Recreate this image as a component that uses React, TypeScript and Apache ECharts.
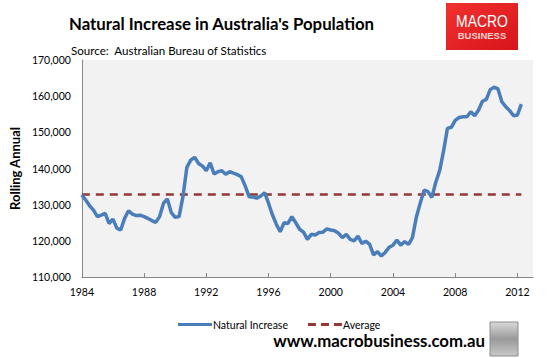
import React, { useEffect, useRef } from "react";
import * as echarts from "echarts";

// Quarterly rolling-annual natural increase, starting 1984 Q1
const startYear = 1984;
const naturalIncrease: number[] = [
  132700, 131300, 129700, 128500, 126700, 127100, 127600, 124800, 126000, 123500,
  123000, 126200, 128300, 127400, 127000, 127100, 126700, 126200, 125600, 125100,
  126700, 130400, 131600, 127800, 126500, 126700, 132200, 140300, 142300, 143100,
  141400, 140700, 139400, 141600, 138500, 139100, 139400, 138400, 139100, 138700,
  138300, 137700, 135200, 132200, 132100, 131800, 132400, 133300, 130400, 127200,
  124600, 122500, 125000, 124800, 126700, 125000, 123200, 122400, 120400, 121800,
  121600, 122300, 122400, 123300, 123000, 122800, 122100, 120900, 121800, 120400,
  120000, 121300, 119300, 119900, 119000, 116100, 117000, 115800, 116800, 118200,
  118800, 120200, 118800, 119800, 119000, 120900, 126500, 130400, 134000, 133600,
  132000, 136200, 139400, 144800, 151100, 151400, 153300, 154100, 154300, 154300,
  155700, 154600, 156200, 158600, 159100, 161800, 162500, 162000, 158400, 157100,
  156000, 154600, 154800, 157800,
];
const averageValue = 132800;
const yTicks = [110000, 120000, 130000, 140000, 150000, 160000, 170000];
const xTickYears = [1984, 1988, 1992, 1996, 2000, 2004, 2008, 2012];

const FONT = "Lato, 'Open Sans', sans-serif";

export default function App() {
  const ref = useRef<HTMLDivElement>(null);
  useEffect(() => {
    if (!ref.current) return;
    const chart = echarts.init(ref.current, undefined, { renderer: "svg" });
    const lineData = naturalIncrease.map((v, i) => [startYear + i / 4, v]);
    const avgData = naturalIncrease.map((_, i) => [startYear + i / 4, averageValue]);
    chart.setOption({
      animation: false,
      backgroundColor: "#ffffff",
      textStyle: { fontFamily: FONT },
      grid: {
        left: 75,
        top: 60,
        right: 21,
        bottom: 81,
        show: true,
        backgroundColor: "#f2f2f2",
        borderWidth: 0,
      },
      xAxis: {
        type: "value",
        min: xTickYears[0],
        max: 2013,
        interval: 4,
        splitLine: { show: false },
        axisLine: { lineStyle: { color: "#868686", width: 1 } },
        axisTick: { show: true, inside: true, length: 4, lineStyle: { color: "#868686" } },
        axisLabel: {
          color: "#000",
          fontSize: 10.5,
          fontFamily: FONT,
          margin: 9,
          showMaxLabel: false,
          formatter: (v: number) => (xTickYears.includes(v) ? String(v) : ""),
        },
      },
      yAxis: {
        type: "value",
        min: yTicks[0],
        max: yTicks[yTicks.length - 1],
        interval: 10000,
        name: "Rolling Annual",
        nameLocation: "middle",
        nameGap: 57,
        nameRotate: 90,
        nameTextStyle: { fontSize: 13, fontWeight: "bold", color: "#000", fontFamily: FONT },
        splitLine: { show: false },
        axisLine: { show: true, lineStyle: { color: "#868686", width: 1 } },
        axisTick: { show: false },
        axisLabel: {
          color: "#000",
          fontSize: 10.5,
          fontFamily: FONT,
          margin: 11,
          formatter: (v: number) => v.toLocaleString("en-US"),
        },
      },
      legend: {
        left: 173,
        top: 314,
        itemWidth: 34,
        itemHeight: 3,
        itemGap: 20,
        textStyle: { fontSize: 10.5, color: "#000", fontFamily: FONT, padding: [0, 0, 0, -4] },
        data: [
          { name: "Natural Increase", icon: "rect" },
          {
            name: "Average",
            icon: "path://M0,0h8v3h-8z M13,0h8v3h-8z M26,0h8v3h-8z",
          },
        ],
      },
      series: [
        {
          name: "Natural Increase",
          type: "line",
          data: lineData,
          symbol: "none",
          lineStyle: { color: "#4a7ebb", width: 3.5 },
          itemStyle: { color: "#4a7ebb" },
          z: 3,
        },
        {
          name: "Average",
          type: "line",
          data: avgData,
          symbol: "none",
          lineStyle: { color: "#953735", width: 2.5, type: [8, 6] },
          itemStyle: { color: "#953735" },
          z: 2,
        },
      ],
      graphic: [
        {
          type: "text",
          x: 69,
          y: 23,
          style: {
            text: "Natural Increase in Australia's Population",
            font: `bold 16.8px ${FONT}`,
            fill: "#000",
            verticalAlign: "middle",
          },
        },
        {
          type: "text",
          x: 71,
          y: 50,
          style: {
            text: "Source:  Australian Bureau of Statistics",
            font: `11.6px ${FONT}`,
            fill: "#000",
            verticalAlign: "middle",
          },
        },
        {
          type: "rect",
          shape: { x: 446, y: 3, width: 72, height: 47 },
          style: {
            fill: new echarts.graphic.LinearGradient(0, 0, 1, 1, [
              { offset: 0, color: "#f0322f" },
              { offset: 1, color: "#d8141a" },
            ]),
          },
        },
        {
          type: "text",
          x: 482,
          y: 21,
          scaleX: 0.82,
          style: {
            text: "MACRO",
            font: `17px 'Liberation Sans', Arial, sans-serif`,
            fill: "#ffffff",
            align: "center",
            verticalAlign: "middle",
          },
        },
        {
          type: "text",
          x: 482,
          y: 35,
          style: {
            text: "BUSINESS",
            font: `bold 9.5px 'Liberation Sans', Arial, sans-serif`,
            fill: "#f6d0d0",
            align: "center",
            verticalAlign: "middle",
          },
        },
        {
          type: "text",
          x: 485,
          y: 340,
          style: {
            text: "www.macrobusiness.com.au",
            font: `bold 16.8px ${FONT}`,
            fill: "#000",
            align: "right",
            verticalAlign: "middle",
          },
        },
        {
          type: "rect",
          shape: { x: 490, y: 322, width: 28, height: 34 },
          style: {
            fill: new echarts.graphic.LinearGradient(0, 0, 0, 1, [
              { offset: 0, color: "#d9d9d9" },
              { offset: 0.5, color: "#9a9a9a" },
              { offset: 1, color: "#c8c8c8" },
            ]),
            stroke: "#8c8c8c",
            lineWidth: 1,
          },
        },
      ],
    });
    return () => chart.dispose();
  }, []);
  return (
    <div
      ref={ref}
      style={{ position: "fixed", left: 0, top: 0, width: 554, height: 358 }}
    />
  );
}
